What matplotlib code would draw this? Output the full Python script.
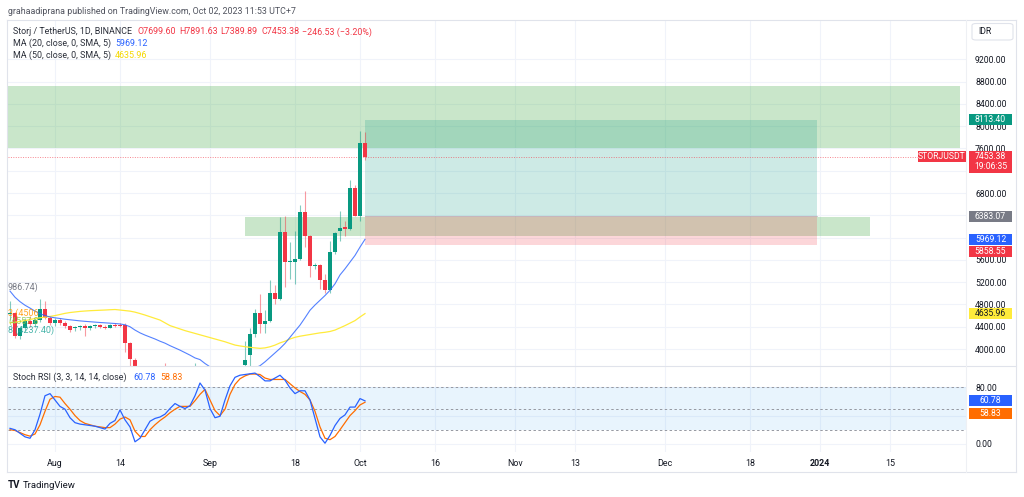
import numpy as np
import pandas as pd
import matplotlib
matplotlib.use('Agg')
import matplotlib.pyplot as plt
import matplotlib.dates as mdates
from matplotlib.patches import Rectangle, FancyBboxPatch
from matplotlib.lines import Line2D

plt.rcParams['font.family'] = ['Roboto', 'DejaVu Sans']

# ---------------- data ----------------
dates = pd.date_range('2023-07-23', '2023-10-02', freq='D')

opens = [4630, 4640, 4230, 4380, 4500, 4450, 4520, 4714, 4550,
         4470, 4520, 4460, 4420, 4370, 4390, 4410, 4380, 4410, 4430,
         4400, 4380, 4440, 4420, 4430, 4100, 3810, 3550, 3450, 3520,
         3500, 3540, 3600, 3520, 3480, 3450, 3470, 3530, 3580, 3600,
         3530, 3460, 3420, 3440, 3470, 3500, 3540, 3600, 3720, 3900,
         4262, 4655, 4458, 4510, 5012, 4905, 6107, 5559, 5570, 5619,
         6452, 6036, 5482, 5500, 5232, 5054, 5738, 6125, 6196, 6155,
         6898, 6393, 7699.60]
highs = [4870, 4660, 4420, 4560, 4600, 4560, 4905, 4860, 4600,
         4560, 4560, 4500, 4440, 4420, 4440, 4450, 4430, 4450, 4450,
         4430, 4450, 4470, 4460, 4460, 4120, 3840, 3620, 3580, 3600,
         3580, 3610, 3740, 3570, 3540, 3520, 3560, 3620, 3745, 3650,
         3580, 3520, 3480, 3500, 3540, 3580, 3630, 3690, 4140, 4369,
         4727, 4995, 4709, 5244, 5143, 6362, 6393, 5916, 6125, 6589,
         6839, 6050, 5540, 5520, 5351, 5946, 6100, 6482, 6304, 7030,
         6941, 7923, 7891.63]
lows = [4520, 4190, 4180, 4330, 4400, 4390, 4480, 4540, 4440,
        4420, 4430, 4380, 4300, 4330, 4350, 4240, 4350, 4380, 4370,
        4360, 4370, 4390, 4400, 3950, 3700, 3480, 3350, 3400, 3450,
        3420, 3500, 3480, 3440, 3400, 3380, 3430, 3480, 3540, 3500,
        3420, 3380, 3360, 3390, 3430, 3460, 3500, 3560, 3650, 3684,
        4220, 4280, 4280, 4490, 4803, 4880, 5113, 5262, 5173, 5600,
        5827, 5291, 5440, 5083, 5006, 5000, 5700, 5946, 6024, 6140,
        6380, 6304, 7389.89]
closes = [4650, 4230, 4380, 4500, 4450, 4520, 4714, 4550, 4470,
          4520, 4460, 4420, 4350, 4390, 4410, 4370, 4410, 4430, 4400,
          4380, 4430, 4410, 4410, 4100, 3820, 3550, 3450, 3520, 3500,
          3540, 3600, 3520, 3480, 3450, 3470, 3530, 3580, 3600, 3530,
          3460, 3420, 3440, 3470, 3500, 3540, 3600, 3660, 3800, 4262,
          4655, 4458, 4510, 5005, 4905, 6100, 5559, 5570, 5610, 6452,
          6036, 5482, 5500, 5232, 5054, 5738, 6083, 6173, 6155, 6898,
          6393, 7699.60, 7453.38]

ma20 = [5040, 4930, 4850, 4786, 4735, 4680, 4635, 4600, 4575,
        4560, 4548, 4535, 4525, 4515, 4505, 4497, 4490, 4483, 4476,
        4470, 4464, 4458, 4450, 4435, 4400, 4340, 4290, 4250, 4215,
        4180, 4140, 4105, 4060, 4020, 3980, 3935, 3890, 3840, 3810,
        3740, 3680, 3640, 3610, 3590, 3575, 3570, 3575, 3590, 3620,
        3660, 3700, 3770, 3850, 3930, 4010, 4100, 4210, 4320, 4429,
        4560, 4696, 4790, 4875, 4960, 5054, 5170, 5330, 5440, 5560,
        5680, 5830, 5969.12]
ma50 = [4470, 4480, 4495, 4510, 4530, 4548, 4560, 4572, 4585,
        4600, 4620, 4640, 4655, 4665, 4675, 4682, 4688, 4692, 4696,
        4700, 4705, 4709, 4700, 4690, 4680, 4662, 4637, 4610, 4580,
        4550, 4520, 4470, 4420, 4390, 4360, 4330, 4305, 4280, 4255,
        4230, 4205, 4180, 4155, 4130, 4100, 4071, 4055, 4042, 4030,
        4020, 4012, 4020, 4040, 4070, 4110, 4140, 4180, 4210, 4230,
        4245, 4260, 4275, 4290, 4300, 4315, 4340, 4380, 4420, 4465,
        4510, 4575, 4635.96]

stoch_k = [22, 20, 15, 10, 8, 20, 42, 68, 71,
           62, 53, 49, 37, 30, 28, 27, 26, 25, 23,
           21, 29, 33, 48, 34, 24, 3, 8, 20, 32,
           36, 38, 42, 50, 57, 53, 50, 54, 68, 86,
           76, 50, 37, 39, 62, 82, 94, 97, 98, 99,
           100, 95, 89, 89, 93, 97, 90, 79, 71, 75,
           75, 62, 36, 10, 1, 12, 26, 36, 41, 52,
           52, 64, 60.78]
stoch_d = [20, 19, 16, 13, 11, 14, 27, 46, 63,
           67, 66, 57, 49, 40, 33, 29, 27, 25, 24,
           23, 23, 28, 35, 38, 34, 18, 10.5, 10.5, 20,
           27, 33, 38, 44, 49, 53, 53, 53, 61, 70,
           77, 62, 47, 40, 49, 70, 84, 92, 96, 98.6,
           98.6, 98, 93, 91, 91, 91, 91, 85, 79, 74,
           70, 62, 46, 24, 8, 6, 10.5, 20, 30, 40,
           47, 55, 58.83]

tick_dates = ['2023-08-01', '2023-08-14', '2023-09-01', '2023-09-18', '2023-10-01',
              '2023-10-16', '2023-11-01', '2023-11-13', '2023-12-01', '2023-12-18',
              '2024-01-01', '2024-01-15']
tick_labels = ['Aug', '14', 'Sep', '18', 'Oct', '16', 'Nov', '13', 'Dec', '18', '2024', '15']
price_ticks = [4000, 4400, 4800, 5200, 5600, 6000, 6400, 6800, 7200, 7600, 8000, 8400, 8800, 9200]
hidden_price_ticks = [7200]   # fully covered by the last-price badge

# drawings
zone_big = (7612, 8714, '2023-07-10', '2024-01-29')
zone_support = (6030, 6370, '2023-09-08', '2024-01-11')
long_start, long_end = '2023-10-02', '2023-12-31 12:00'
entry, target, stop = 6383.07, 8113.40, 5858.55
last_price = 7453.38

# ---------------- figure ----------------
W, H = 1024, 497
fig = plt.figure(figsize=(W / 100, H / 100), dpi=100)
fig.patch.set_facecolor('white')

def fx(x):
    return x / W

def fy(y):
    return 1 - y / H

L, R = 8, 966
MT, MB = 20, 366
ST, SB = 366, 452
YMIN, YMAX = 3695, 9907
SMIN, SMAX = -11.4, 110

ax = fig.add_axes([fx(L), fy(MB), (R - L) / W, (MB - MT) / H])
ax2 = fig.add_axes([fx(L), fy(SB), (R - L) / W, (SB - ST) / H], sharex=ax)

UP, DN = '#089981', '#f23645'
grid_c = '#f0f3fa'

xd = mdates.date2num(dates)
aug1 = mdates.date2num(pd.Timestamp('2023-08-01'))
xmin, xmax = aug1 - 9.4, aug1 + 182.2

o = np.array(opens); hh = np.array(highs); ll = np.array(lows); c = np.array(closes)
up = c >= o
cols = np.where(up, UP, DN)

tks = mdates.date2num(pd.to_datetime(tick_dates))

for a in (ax, ax2):
    a.set_facecolor('white')
    for s in a.spines.values():
        s.set_visible(False)
    a.set_xticks(tks)
    a.grid(True, axis='both', color=grid_c, lw=0.8, zorder=0)
    a.set_axisbelow(True)

ax.set_xlim(xmin, xmax)
ax.set_ylim(YMIN, YMAX)
ax.set_yticks(price_ticks)
ax.set_yticklabels(['' if p in hidden_price_ticks else f'{p:.2f}' for p in price_ticks])
ax.yaxis.tick_right()
ax.tick_params(axis='y', length=0, pad=6.5, labelsize=6.2, labelcolor='#131722')
ax.tick_params(axis='x', length=0, labelbottom=False)

# zones
def zone(a, lo, hi, x0, x1, fc, z=1):
    X0 = mdates.date2num(pd.Timestamp(x0)); X1 = mdates.date2num(pd.Timestamp(x1))
    a.add_patch(Rectangle((X0, lo), X1 - X0, hi - lo, fc=fc, ec='none', zorder=z))

green_fc = (76 / 255, 175 / 255, 80 / 255, 0.3)
zone(ax, zone_big[0], zone_big[1], zone_big[2], zone_big[3], green_fc)
zone(ax, zone_support[0], zone_support[1], zone_support[2], zone_support[3], green_fc)
zone(ax, entry, target, long_start, long_end, (8 / 255, 153 / 255, 129 / 255, 0.2), z=1.5)
zone(ax, stop, entry, long_start, long_end, (242 / 255, 54 / 255, 69 / 255, 0.2), z=1.5)
X0 = mdates.date2num(pd.Timestamp(long_start)); X1 = mdates.date2num(pd.Timestamp(long_end))
ax.plot([X0, X1], [entry, entry], color='#9598a1', lw=0.6, alpha=0.6, zorder=1.6)

# current price dotted line
ax.axhline(last_price, color=DN, ls=(0, (1, 1.5)), lw=0.7, alpha=0.6, zorder=2)

# left clipped labels
fig.text(fx(8), fy(287), '986.74)', fontsize=6.5, color='#787b86', va='center', ha='left', zorder=0.5)
fig.text(fx(8), fy(313), '3 (4506', fontsize=6.5, color='#ff9800', va='center', ha='left', zorder=0.5, alpha=0.85)
fig.text(fx(8), fy(321.5), '(4557.8', fontsize=6.5, color='#8bc34a', va='center', ha='left', zorder=0.5, alpha=0.85)
fig.text(fx(8), fy(330), '8 (4237.40)', fontsize=6.5, color='#26a69a', va='center', ha='left', zorder=0.5, alpha=0.85)

# candles
ax.vlines(xd, ll, hh, colors=cols, lw=0.8, alpha=0.5, zorder=3)
body_h = np.maximum(np.abs(c - o), 18)
ax.bar(xd, body_h, bottom=np.minimum(o, c), width=0.78, color=cols, lw=0, zorder=4)

# moving averages
ax.plot(xd, ma50, color='#ffeb3b', lw=0.9, zorder=5)
ax.plot(xd, ma20, color='#2962ff', lw=0.8, alpha=0.8, zorder=5)

# ---------------- stoch pane ----------------
ax2.set_ylim(SMIN, SMAX)
ax2.axhspan(20, 80, color=(33 / 255, 150 / 255, 243 / 255, 0.1), lw=0, zorder=1)
for lv in (80, 50, 20):
    ax2.axhline(lv, color='#9598a1', ls=(0, (2.5, 2.5)), lw=0.7, zorder=2)
ax2.plot(xd, stoch_d, color='#ff6d00', lw=0.9, zorder=4)
ax2.plot(xd, stoch_k, color='#2962ff', lw=0.9, zorder=5)
ax2.set_yticks([0, 40, 80])
ax2.set_yticklabels(['0.00', '', '80.00'])
ax2.yaxis.tick_right()
ax2.tick_params(axis='y', length=0, pad=6.5, labelsize=6.2, labelcolor='#131722')
ax2.set_xticklabels(tick_labels)
ax2.tick_params(axis='x', length=0, pad=5, labelsize=6.4, labelcolor='#131722')
for lab in ax2.get_xticklabels():
    if lab.get_text() == '2024':
        lab.set_fontweight('bold')

# ---------------- frame lines ----------------
fr = '#e0e3eb'
def fline(x0, y0, x1, y1, col=fr, lw=0.8):
    fig.add_artist(Line2D([fx(x0), fx(x1)], [fy(y0), fy(y1)], color=col, lw=lw, transform=fig.transFigure, zorder=6))

fline(7, 20, 1016, 20)
fline(7, 472, 1016, 472)
fline(7, 20, 7, 472)
fline(1016, 20, 1016, 472)
fline(7, 366, 1016, 366)
fline(966, 20, 966, 472, col='#eef0f4')

# ---------------- badges ----------------
def py(p):
    return MB - (p - YMIN) / (YMAX - YMIN) * (MB - MT)

def sy(v):
    return SB - (v - SMIN) / (SMAX - SMIN) * (SB - ST)

def badge(x0, x1, yc, text, fc, tc='white', h=11):
    fig.add_artist(Rectangle((fx(x0), fy(yc + h / 2)), (x1 - x0) / W, h / H, fc=fc, ec='none',
                             transform=fig.transFigure, zorder=7))
    fig.text(fx((x0 + x1) / 2), fy(yc), text, fontsize=6.2, color=tc,
             ha='center', va='center', zorder=8)

badge(969, 1012, py(target), '8113.40', UP)
yl = py(last_price)
fig.add_artist(Rectangle((fx(969), fy(yl + 16)), 43 / W, 22 / H, fc=DN, ec='none',
                         transform=fig.transFigure, zorder=7))
fig.text(fx(990.5), fy(yl), '7453.38', fontsize=6.2, color='white', ha='center', va='center', zorder=8)
fig.text(fx(990.5), fy(yl + 10), '19:06:35', fontsize=6.2, color='white', ha='center', va='center', zorder=8)
badge(918, 966, yl, 'STORJUSDT', DN)
badge(969, 1012, py(entry), '6383.07', '#787b86')
badge(969, 1012, py(5969.12), '5969.12', '#2962ff')
badge(969, 1012, py(5969.12) + 12.5, '5858.55', DN)
badge(969, 1012, py(4635.96), '4635.96', '#ffeb3b', tc='#131722')
badge(969, 1012, sy(60.78), '60.78', '#2962ff')
badge(969, 1012, sy(60.78) + 12.5, '58.83', '#ff6d00')

# IDR box
fig.add_artist(FancyBboxPatch((fx(972), fy(40)), 41 / W, 16.5 / H,
                              boxstyle='round,pad=0,rounding_size=0.004', fc='white', ec=fr, lw=0.8,
                              transform=fig.transFigure, zorder=7))
fig.text(fx(978), fy(31.8), 'IDR', fontsize=6.2, color='#131722', ha='left', va='center', zorder=8)

# ---------------- texts ----------------
txt = '#2a2e39'
fs = 6.4
fig.text(fx(7.5), fy(12), 'grahaadiprana published on TradingView.com, Oct 02, 2023 11:53 UTC+7',
         fontsize=6.4, color='#50535e', ha='left', va='center')
fig.text(fx(13), fy(31.8), 'Storj / TetherUS, 1D, BINANCE', fontsize=fs, color=txt, ha='left', va='center', zorder=8)
for xx, s in [(137, 'O7699.60'), (179, 'H7891.63'), (220.5, 'L7389.89'), (261, 'C7453.38'),
              (302, '\u2212246.53 (\u22123.20%)')]:
    fig.text(fx(xx), fy(31.8), s, fontsize=fs, color=DN, ha='left', va='center', zorder=8)
fig.text(fx(13), fy(43.5), 'MA (20, close, 0, SMA, 5)', fontsize=fs, color=txt, ha='left', va='center', zorder=8)
fig.text(fx(115), fy(43.5), '5969.12', fontsize=fs, color='#2962ff', ha='left', va='center', zorder=8)
fig.text(fx(13), fy(55.3), 'MA (50, close, 0, SMA, 5)', fontsize=fs, color=txt, ha='left', va='center', zorder=8)
fig.text(fx(115), fy(55.3), '4635.96', fontsize=fs, color='#f5d800', ha='left', va='center', zorder=8)
fig.text(fx(13), fy(377), 'Stoch RSI (3, 3, 14, 14, close)', fontsize=fs, color=txt, ha='left', va='center', zorder=8)
fig.text(fx(133.5), fy(377), '60.78', fontsize=fs, color='#2962ff', ha='left', va='center', zorder=8)
fig.text(fx(160.5), fy(377), '58.83', fontsize=fs, color='#ff6d00', ha='left', va='center', zorder=8)

# TradingView logo
fig.text(fx(8), fy(485), 'TV', fontsize=7, fontweight='bold', color='#131722', ha='left', va='center')
fig.text(fx(23), fy(485), 'TradingView', fontsize=6.8, color='#131722', ha='left', va='center')

fig.savefig('out.png', dpi=100, facecolor='white')
